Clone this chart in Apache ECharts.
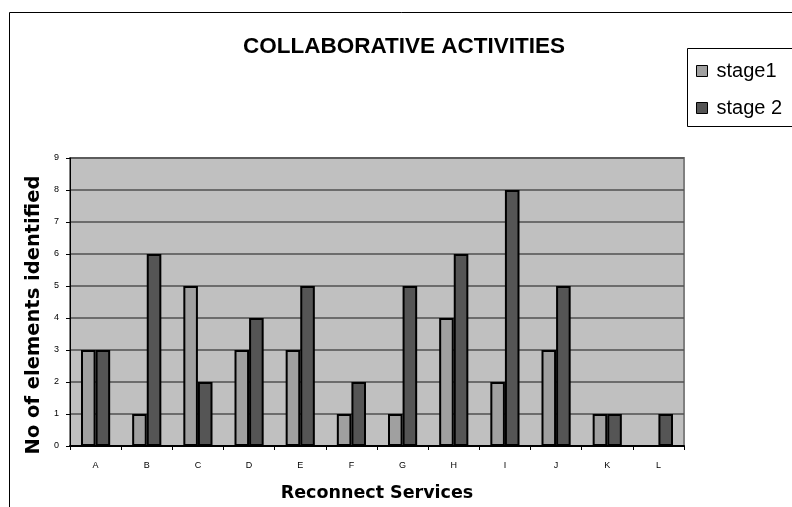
<!DOCTYPE html>
<html>
<head>
<meta charset="utf-8">
<script src="https://cdn.jsdelivr.net/npm/echarts@6/dist/echarts.min.js"></script>
<style>
  html, body { margin: 0; padding: 0; background: #fff; }
  #chart { width: 792px; height: 507px; }
</style>
</head>
<body>
<div id="chart"></div>
<script>
// Collaborative activities per reconnect service, two stages
const categories = ['A', 'B', 'C', 'D', 'E', 'F', 'G', 'H', 'I', 'J', 'K', 'L'];
const stage1 = [3, 1, 5, 3, 3, 1, 1, 4, 2, 3, 1, 0];
const stage2 = [3, 6, 2, 4, 5, 2, 5, 6, 8, 5, 1, 1];
const yTicks = [0, 1, 2, 3, 4, 5, 6, 7, 8, 9];

const chart = echarts.init(document.getElementById('chart'), null, { renderer: 'canvas' });

const barBorder = { borderColor: '#000', borderWidth: 2 };

chart.setOption({
  animation: false,
  backgroundColor: '#fff',
  title: {
    text: 'COLLABORATIVE ACTIVITIES',
    left: 399,
    textAlign: 'center',
    top: 30,
    textStyle: { fontFamily: 'Liberation Sans', fontWeight: 'bold', fontSize: 22.5, color: '#000' }
  },
  graphic: [
    // outer chart frame
    { type: 'rect', shape: { x: 9.5, y: 12.5, width: 900, height: 600 },
      style: { fill: 'none', stroke: '#000', lineWidth: 1 }, silent: true },
    // legend frame
    { type: 'rect', shape: { x: 687.5, y: 48.5, width: 200, height: 78 },
      style: { fill: '#fff', stroke: '#000', lineWidth: 1 }, silent: true, z: 5 }
  ],
  legend: {
    orient: 'vertical',
    left: 691,
    top: 56,
    itemGap: 17,
    itemWidth: 11,
    itemHeight: 11,
    icon: 'rect',
    z: 10,
    itemStyle: { borderWidth: 1, borderColor: '#000' },
    textStyle: { fontFamily: 'Liberation Sans', fontSize: 20, lineHeight: 20, color: '#000', padding: [0, 0, 0, 4] },
    data: ['stage1', 'stage 2']
  },
  grid: {
    left: 70,
    right: 108,
    top: 158,
    bottom: 60,
    show: true,
    backgroundColor: '#c0c0c0',
    borderColor: '#808080',
    borderWidth: 2
  },
  xAxis: {
    type: 'category',
    data: categories,
    name: 'Reconnect Services',
    nameLocation: 'middle',
    nameGap: 38,
    nameMoveOverlap: false,
    nameTextStyle: { fontFamily: 'DejaVu Sans', fontWeight: 'bold', fontSize: 17.5, color: '#000' },
    axisLine: { show: true, lineStyle: { color: '#000', width: 2 } },
    axisTick: { show: true, alignWithLabel: false, length: 4, lineStyle: { color: '#000' } },
    axisLabel: { fontFamily: 'Liberation Sans', fontSize: 9, color: '#000', margin: 15 },
    splitLine: { show: false }
  },
  yAxis: {
    type: 'value',
    min: 0,
    max: 9,
    interval: 1,
    name: 'No of elements identified',
    nameLocation: 'middle',
    nameGap: 26,
    nameMoveOverlap: false,
    nameTextStyle: {
      fontFamily: 'DejaVu Sans', fontWeight: 'bold', fontSize: 19.5, color: '#000',
      padding: [0, 26, 0, 0]
    },
    axisLine: { show: true, lineStyle: { color: '#000', width: 1 } },
    axisTick: { show: true, length: 4, lineStyle: { color: '#000' } },
    axisLabel: {
      fontFamily: 'Liberation Sans', fontSize: 9, color: '#000', margin: 11,
      formatter: v => (yTicks.includes(v) ? String(v) : '')
    },
    splitLine: { show: true, lineStyle: { color: '#505050', width: 1.5 } }
  },
  series: [
    {
      name: 'stage1',
      type: 'bar',
      data: stage1,
      barGap: '0%',
      barCategoryGap: '43%',
      itemStyle: Object.assign({ color: '#a0a0a0' }, barBorder)
    },
    {
      name: 'stage 2',
      type: 'bar',
      data: stage2,
      barGap: '0%',
      barCategoryGap: '43%',
      itemStyle: Object.assign({ color: '#555555' }, barBorder)
    }
  ]
});
</script>
</body>
</html>
